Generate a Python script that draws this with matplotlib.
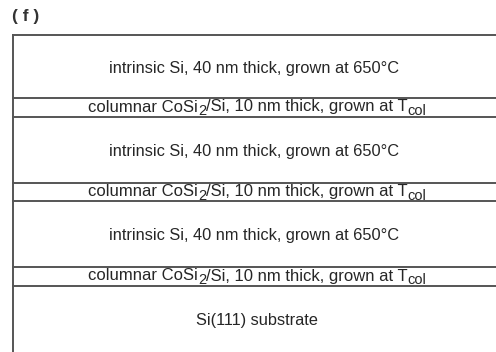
import matplotlib.pyplot as plt
import numpy as np

plt.rcParams['font.family'] = ['Liberation Sans', 'DejaVu Sans']

# layer stack, top to bottom; each label is a list of (text, is_subscript)
intrinsic = [('intrinsic Si, 40 nm thick, grown at 650°C', False)]
columnar = [('columnar CoSi', False), ('2', True),
            ('/Si, 10 nm thick, grown at T', False), ('col', True)]
substrato = [('Si(111) substrate', False)]
camadas = [intrinsic, columnar, intrinsic, columnar, intrinsic, columnar,
           substrato]
alturas = [63, 19, 66, 18, 66, 19, 70]  # drawn heights (px), not to scale

fig = plt.figure(figsize=(4.96, 3.52), dpi=100)
ax = fig.add_axes([0, 0, 1, 1])
ax.set_xlim(0, 496)
ax.set_ylim(352, 0)
ax.axis('off')

topo = 35
x_esq, x_dir = 13, 496
cor_linha = '#555555'
cor_texto = '#262626'
bordas = topo + np.concatenate([[0], np.cumsum(alturas)])

ax.plot([x_esq, x_esq], [topo, 352], color=cor_linha, lw=1.4)
for b in bordas[:-1]:
    ax.plot([x_esq, x_dir], [b, b], color=cor_linha, lw=1.4)

renderer = fig.canvas.get_renderer()


def escrever(partes, xc, yc, tam, tam_sub):
    # draw pieces left to right, then shift so the whole line is centred
    objs = []
    x = 0
    for txt, sub in partes:
        dy = 4 if sub else 0
        t = ax.text(x, yc + dy, txt, ha='left', va='center',
                    fontsize=tam_sub if sub else tam, color=cor_texto)
        largura = t.get_window_extent(renderer).width
        objs.append((t, x))
        x += largura
    desloc = xc - x / 2
    for t, x0 in objs:
        t.set_x(x0 + desloc)


for partes, y0, y1 in zip(camadas, bordas[:-1], bordas[1:]):
    yc = (y0 + y1) / 2
    if partes is substrato:
        escrever(partes, 257, y0 + 34, 11.8, 10)
    elif partes is columnar:
        escrever(partes, 257.5, yc - 0.5, 12, 10.5)
    else:
        escrever(partes, 254, yc + 1.5, 11.8, 10)

ax.text(12, 17, '( f )', ha='left', va='center', fontsize=12.5,
        fontweight='bold', color='#333333')

plt.savefig('out.png', dpi=100)
